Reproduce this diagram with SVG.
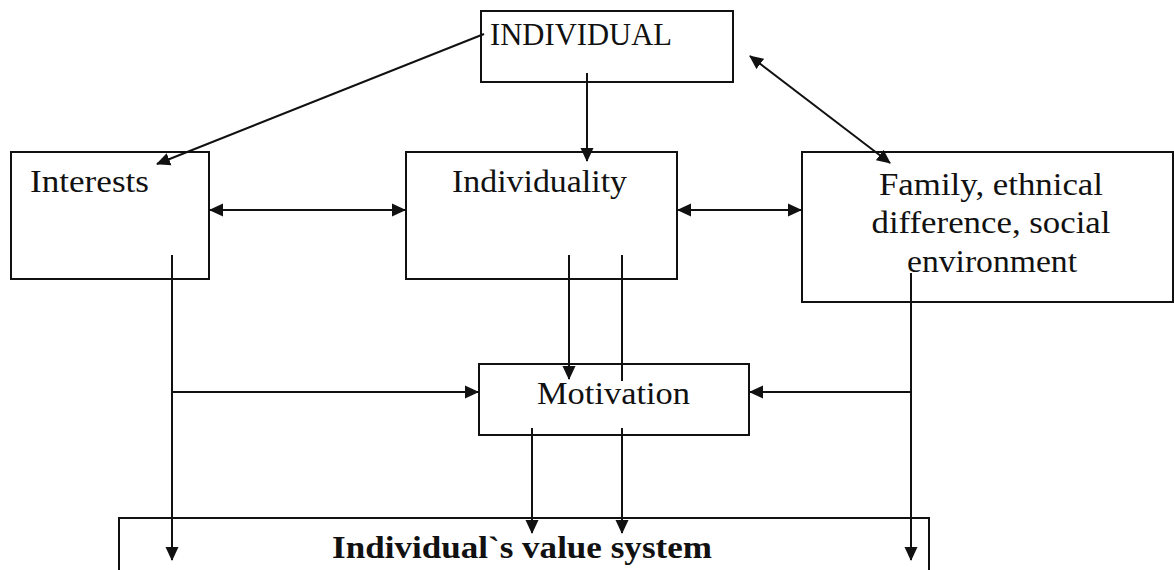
<svg xmlns="http://www.w3.org/2000/svg" width="1174" height="570" viewBox="0 0 1174 570">
<style>
.box{fill:#fff;stroke:#111;stroke-width:2}
.t{font-family:"Liberation Serif","Times New Roman",serif;font-size:31px;fill:#111}
.b{font-weight:bold}
.c{fill:none;stroke:#111;stroke-width:2}
</style>
<defs>
<marker id="ah" markerUnits="userSpaceOnUse" markerWidth="14" markerHeight="14" refX="13" refY="6.5" orient="auto-start-reverse" viewBox="0 0 14 13">
<path d="M0,0 L14,6.5 L0,13 z" fill="#111"/>
</marker>
</defs>
<rect width="1174" height="570" fill="#fff"/>
<g id="value-system">
<rect class="box" x="119" y="518" width="810" height="70"/>
<text class="t b" x="332" y="558" textLength="380" lengthAdjust="spacingAndGlyphs">Individual`s value system</text>
</g>
<g id="individual">
<rect class="box" x="481" y="11" width="252" height="71"/>
<text class="t" x="490" y="45" textLength="182" lengthAdjust="spacingAndGlyphs">INDIVIDUAL</text>
</g>
<g id="interests">
<rect class="box" x="11" y="152" width="198" height="127"/>
<text class="t" x="30" y="192" textLength="119" lengthAdjust="spacingAndGlyphs">Interests</text>
</g>
<g id="individuality">
<rect class="box" x="406" y="152" width="271" height="127"/>
<text class="t" x="452" y="192" textLength="175" lengthAdjust="spacingAndGlyphs">Individuality</text>
</g>
<g id="family">
<rect class="box" x="802" y="152" width="371" height="150"/>
<text class="t" x="991" y="195" text-anchor="middle" textLength="224" lengthAdjust="spacingAndGlyphs">Family, ethnical</text>
<text class="t" x="991" y="233" text-anchor="middle" textLength="239" lengthAdjust="spacingAndGlyphs">difference, social</text>
<text class="t" x="992" y="272" text-anchor="middle" textLength="170" lengthAdjust="spacingAndGlyphs">environment</text>
</g>
<g id="motivation">
<rect class="box" x="479" y="364" width="270" height="71"/>
<text class="t" x="537" y="404" textLength="153" lengthAdjust="spacingAndGlyphs">Motivation</text>
</g>
<g id="connectors" class="c">
<line x1="484" y1="34" x2="157" y2="164" marker-end="url(#ah)"/>
<line x1="587" y1="73" x2="587" y2="161" marker-end="url(#ah)"/>
<line x1="750" y1="56" x2="890" y2="163" marker-start="url(#ah)" marker-end="url(#ah)"/>
<line x1="210" y1="210" x2="405" y2="210" marker-start="url(#ah)" marker-end="url(#ah)"/>
<line x1="678" y1="210" x2="801" y2="210" marker-start="url(#ah)" marker-end="url(#ah)"/>
<line x1="172" y1="255" x2="172" y2="560" marker-end="url(#ah)"/>
<line x1="172" y1="392" x2="478" y2="392" marker-end="url(#ah)"/>
<line x1="911" y1="273" x2="911" y2="560" marker-end="url(#ah)"/>
<line x1="911" y1="392" x2="750" y2="392" marker-end="url(#ah)"/>
<line x1="569" y1="255" x2="569" y2="379" marker-end="url(#ah)"/>
<line x1="622" y1="255" x2="622" y2="381"/>
<line x1="532" y1="428" x2="532" y2="533" marker-end="url(#ah)"/>
<line x1="622" y1="428" x2="622" y2="533" marker-end="url(#ah)"/>
</g>
</svg>
